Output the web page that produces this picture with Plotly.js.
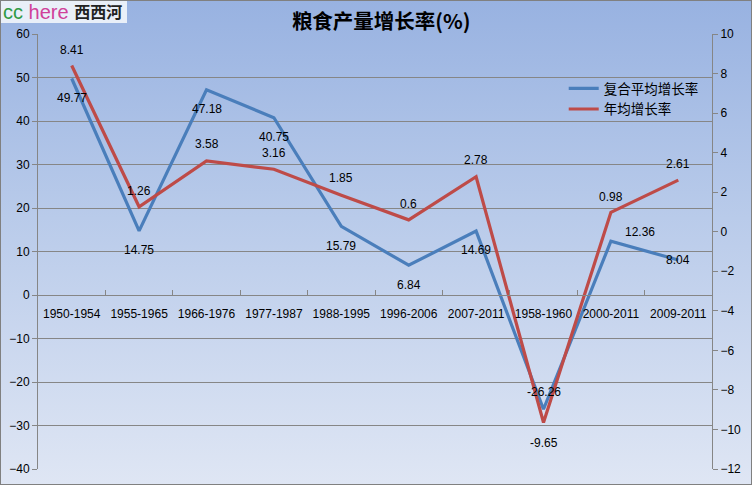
<!DOCTYPE html>
<html>
<head>
<meta charset="utf-8">
<script src="https://cdn.plot.ly/plotly-3.0.1.min.js"></script>
<style>
html,body{margin:0;padding:0;}
#wrap{position:relative;width:752px;height:485px;background:linear-gradient(to bottom,#98b2e1 0%,#b9cbea 45%,#dfe6f4 100%);overflow:hidden;}
#chart{position:absolute;left:0;top:0;width:752px;height:485px;}
#border{position:absolute;left:0;top:0;width:752px;height:485px;box-sizing:border-box;border:1px solid #808080;pointer-events:none;}
#wm{position:absolute;left:0;top:0;height:23px;padding:0 5px 0 3px;background:rgba(240,244,250,0.92);font-family:"Liberation Sans","Noto Sans CJK SC",sans-serif;font-size:20px;line-height:22px;white-space:nowrap;}
#wm .cc{color:#2f9a45;}
#wm .here{color:#d0409a;}
#wm .xxh{color:#222;font-family:"Noto Sans CJK SC",sans-serif;font-weight:bold;font-size:16px;vertical-align:1px;}
</style>
</head>
<body>
<div id="wrap">
<div id="chart"></div>
<div id="wm"><span class="cc">cc</span> <span class="here">here</span> <span class="xxh">西西河</span></div>
<div id="border"></div>
</div>
<script>
const categories = ["1950-1954","1955-1965","1966-1976","1977-1987","1988-1995","1996-2006","2007-2011","1958-1960","2000-2011","2009-2011"];
const compoundGrowth = [49.77,14.75,47.18,40.75,15.79,6.84,14.69,-26.26,12.36,8.04];
const annualGrowth = [8.41,1.26,3.58,3.16,1.85,0.6,2.78,-9.65,0.98,2.61];
const seriesNames = ["复合平均增长率","年均增长率"];
const chartTitle = "粮食产量增长率(%)";

const blueShiftY = [-19,-19,-19,-19,-20,-20,-19,17,9,0];
const blueShiftX = [0,0,0,0,0,0,0,0,29,0];
const redShiftY = [15,16,17,16,17,16,17,-20,15,16];

const labelFont = {family:"Liberation Sans, sans-serif", size:12, color:"#000"};
const annotations = [];
categories.forEach((c,i)=>{
  annotations.push({x:c, y:compoundGrowth[i], xref:"x", yref:"y", text:String(compoundGrowth[i]), showarrow:false, yshift:blueShiftY[i], xshift:blueShiftX[i], font:labelFont});
  annotations.push({x:c, y:annualGrowth[i], xref:"x", yref:"y2", text:String(annualGrowth[i]), showarrow:false, yshift:redShiftY[i], font:labelFont});
});

const traces = [
  {x:categories, y:compoundGrowth, name:seriesNames[0], type:"scatter", mode:"lines", line:{color:"#4a7ebb", width:3.2}, yaxis:"y"},
  {x:categories, y:annualGrowth, name:seriesNames[1], type:"scatter", mode:"lines", line:{color:"#be4b48", width:3.2}, yaxis:"y2"}
];

const axisFont = {family:"Liberation Sans, sans-serif", size:12, color:"#000"};
const layout = {
  width:752, height:485,
  margin:{l:38, r:40, t:34, b:16},
  paper_bgcolor:"rgba(0,0,0,0)",
  plot_bgcolor:"rgba(0,0,0,0)",
  title:{text:chartTitle, x:0.507, xanchor:"center", y:0.955, yanchor:"middle", font:{family:"Noto Sans CJK SC, sans-serif", size:20.5, color:"#000", weight:"bold"}},
  showlegend:true,
  legend:{x:0.78, y:0.91, xanchor:"left", yanchor:"top", bgcolor:"rgba(0,0,0,0)", font:{family:"Noto Sans CJK SC, sans-serif", size:13.5, color:"#000"}, tracegroupgap:0},
  xaxis:{type:"category", range:[-0.5,9.5], anchor:"free", position:0.4, showline:true, linecolor:"#868686", linewidth:1, showgrid:false, zeroline:false, ticks:"inside", tickson:"boundaries", ticklen:5, tickcolor:"#868686", tickfont:axisFont, ticklabelstandoff:8, fixedrange:true},
  yaxis:{range:[-40,60], dtick:10, showline:true, linecolor:"#868686", linewidth:1, ticks:"outside", ticklen:5, tickcolor:"#868686", showgrid:true, gridcolor:"#868686", gridwidth:1, zeroline:false, tickfont:axisFont},
  yaxis2:{range:[-12,10], dtick:2, overlaying:"y", side:"right", showline:true, linecolor:"#868686", linewidth:1, ticks:"outside", ticklen:5, tickcolor:"#868686", showgrid:false, zeroline:false, tickfont:axisFont},
  annotations:annotations
};
Plotly.newPlot("chart", traces, layout, {displayModeBar:false, staticPlot:true});
</script>
</body>
</html>
